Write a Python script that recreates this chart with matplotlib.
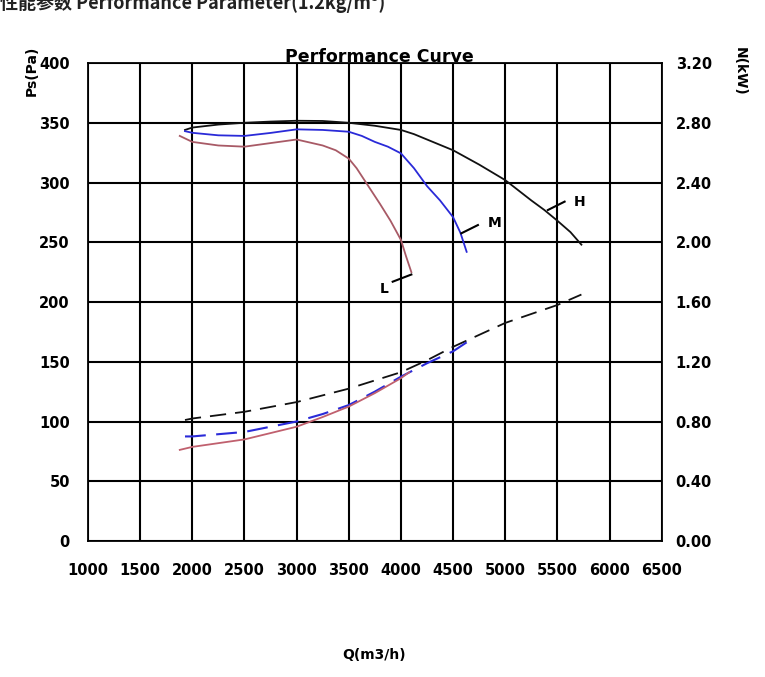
import matplotlib
matplotlib.use("Agg")
import matplotlib.pyplot as plt

# 风量 Q (m3/h) 与 静压 Ps (Pa)
q_h = [1930, 2000, 2250, 2500, 2750, 3000, 3250, 3500, 3750, 4000, 4125, 4250, 4375, 4500, 4750, 5000, 5250, 5375, 5500, 5625, 5730]
ps_h = [344, 346, 348.5, 350, 351, 351.7, 351.5, 350, 347.5, 344, 340.5, 336, 331.5, 327, 315, 302, 285, 277, 268, 258.5, 248]

q_m = [1930, 2000, 2250, 2500, 2750, 3000, 3250, 3500, 3625, 3750, 3875, 4000, 4125, 4250, 4375, 4500, 4570, 4630]
ps_m = [343, 341.6, 339.5, 339, 341.5, 344.5, 344, 342.5, 339, 334, 330, 324.4, 312, 297, 285, 271, 258, 242]

q_l = [1880, 2000, 2250, 2500, 2750, 3000, 3250, 3375, 3500, 3575, 3650, 3725, 3800, 3900, 4000, 4050, 4100]
ps_l = [339, 334, 331, 330, 333, 336, 331, 327, 320, 312, 302, 292, 282, 268, 252, 238, 225]

# 功率 N (kW)
qn_h = [1930, 2000, 2500, 3000, 3500, 4000, 4250, 4500, 4750, 5000, 5250, 5500, 5730]
n_h = [0.81, 0.82, 0.865, 0.93, 1.02, 1.13, 1.21, 1.30, 1.38, 1.46, 1.52, 1.58, 1.65]

qn_m = [1930, 2000, 2500, 3000, 3250, 3500, 3750, 4000, 4250, 4500, 4630]
n_m = [0.70, 0.70, 0.73, 0.80, 0.85, 0.91, 1.00, 1.10, 1.19, 1.27, 1.33]

qn_l = [1880, 2000, 2500, 3000, 3250, 3500, 3750, 4000, 4080]
n_l = [0.61, 0.63, 0.68, 0.765, 0.83, 0.90, 0.99, 1.09, 1.13]

x_ticks = list(range(1000, 7000, 500))
ps_ticks = list(range(0, 450, 50))
n_ticks = [0.0, 0.4, 0.8, 1.2, 1.6, 2.0, 2.4, 2.8, 3.2]

# 曲线标注 (label, leader start, leader end, text pos)
labels = ["H", "M", "L"]
lead_q = [(5409, 5569), (4579, 4738), (4100, 3921)]
lead_p = [(277, 284), (257.5, 264.4), (223, 217)]
text_pos = [(5713, 284), (4898, 266), (3844, 211)]

C_H = "#111111"
C_M = "#2a2ad8"
C_L = "#a85a66"
C_LN = "#c0606e"

fig = plt.figure(figsize=(7.65, 6.77), dpi=100)
ax = fig.add_axes([0.115, 0.2009, 0.750, 0.706])

ax.plot(q_h, ps_h, color=C_H, lw=1.3)
ax.plot(q_m, ps_m, color=C_M, lw=1.3)
ax.plot(q_l, ps_l, color=C_L, lw=1.3)

for lab, lq, lp, tp in zip(labels, lead_q, lead_p, text_pos):
    ax.plot(lq, lp, color="black", lw=1.5)
    ax.text(tp[0], tp[1], lab, fontsize=10, fontweight="bold", ha="center", va="center")

ax.set_xlim(1000, 6500)
ax.set_ylim(0, 400)
ax.set_xticks(x_ticks)
ax.set_yticks(ps_ticks)
ax.grid(True, color="black", lw=1.5)
ax.set_axisbelow(True)
for s in ax.spines.values():
    s.set_color("black")
    s.set_linewidth(1.3)
ax.tick_params(length=0, labelsize=10.5, pad=13)
ax.tick_params(axis="x", pad=16)
for t in ax.get_xticklabels() + ax.get_yticklabels():
    t.set_fontweight("bold")

ax2 = ax.twinx()
ax2.plot(qn_h, n_h, color=C_H, lw=1.3, dashes=(9, 5))
ax2.plot(qn_m, n_m, color=C_M, lw=1.5, dashes=(10, 5))
ax2.plot(qn_l, n_l, color=C_LN, lw=1.3)
ax2.set_ylim(0, 3.2)
ax2.set_yticks(n_ticks)
ax2.set_yticklabels([f"{v:.2f}" for v in n_ticks])
ax2.tick_params(length=0, labelsize=10.5, pad=10)
for t in ax2.get_yticklabels():
    t.set_fontweight("bold")
for s in ax2.spines.values():
    s.set_visible(False)

ax.text(3790, 405, "Performance Curve", fontsize=12.5, fontweight="heavy",
        ha="center", va="center", zorder=5)

fig.text(0.041, 0.895, "Ps(Pa)", rotation=90, fontsize=10, fontweight="bold",
         ha="center", va="center")
fig.text(0.967, 0.895, "N(kW)", rotation=-90, fontsize=10, fontweight="bold",
         ha="center", va="center")
fig.text(0.489, 0.032, "Q(m3/h)", fontsize=10, fontweight="bold",
         ha="center", va="center")
fig.text(0.0, 0.995, "性能参数 Performance Parameter(1.2kg/m³)", fontsize=13,
         fontweight="bold", ha="left", va="center",
         family=["Noto Sans CJK SC", "DejaVu Sans"], color="#222222")

fig.savefig("out.png", dpi=100)
